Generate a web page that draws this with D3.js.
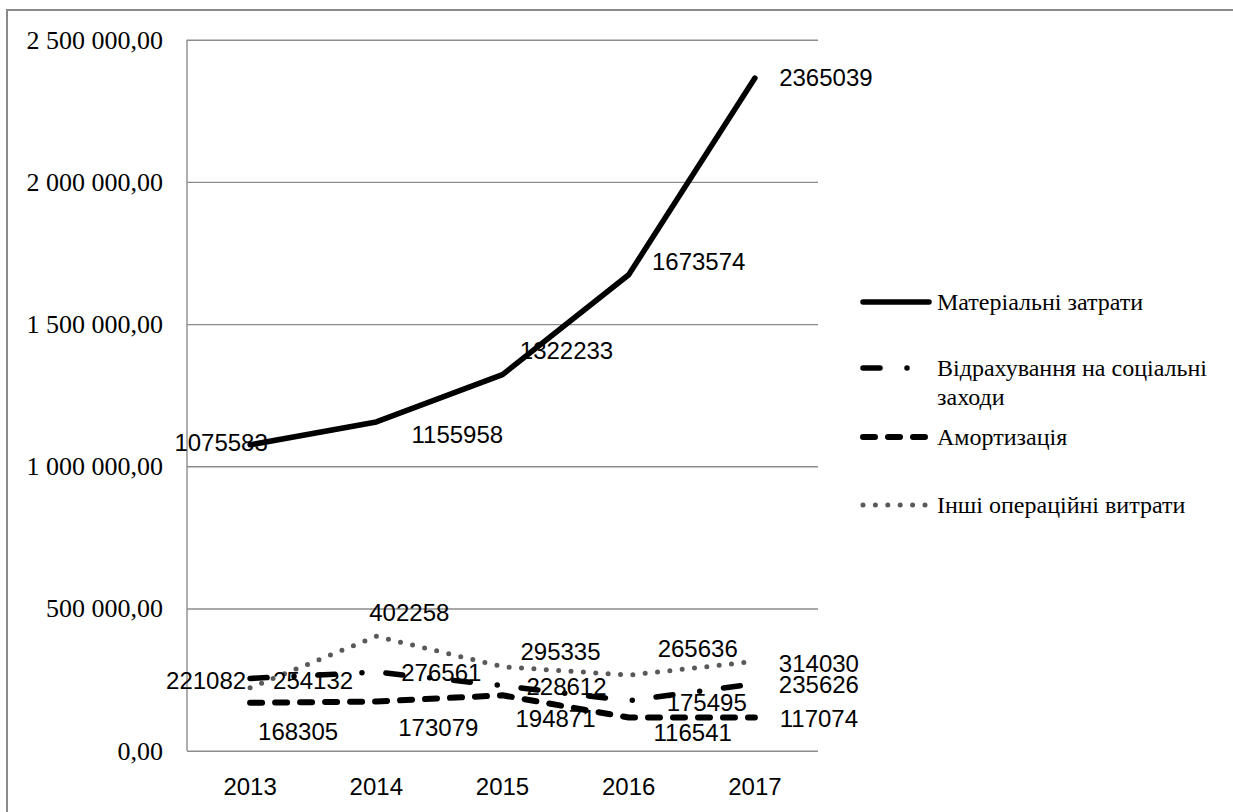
<!DOCTYPE html>
<html>
<head>
<meta charset="utf-8">
<script src="https://cdn.jsdelivr.net/npm/d3@7"></script>
<style>
  body { margin: 0; background: #fff; }
  svg { display: block; }
  .serif { font-family: "Liberation Serif", "Times New Roman", "DejaVu Serif", serif; }
  .sans { font-family: "Liberation Sans", Arial, sans-serif; }
</style>
</head>
<body>
<svg id="chart" width="1233" height="812"></svg>
<script>
// data
const years = ["2013", "2014", "2015", "2016", "2017"];
const yTicks = [0, 500000, 1000000, 1500000, 2000000, 2500000];

const materialni = [1075583, 1155958, 1322233, 1673574, 2365039];
const vidrakhuvannia = [254132, 276561, 228612, 175495, 235626];
const amortyzatsiia = [168305, 173079, 194871, 116541, 117074];
const inshi = [221082, 402258, 295335, 265636, 314030];

const seriesNames = ["Матеріальні затрати", "Відрахування на соціальні заходи", "Амортизація", "Інші операційні витрати"];

// where each data label sits relative to its point (dx, dy)
const labelShift = [
  [[-29, -2], [81, 13], [64, -24], [70, -13], [71, 0]],
  [[63, 2], [65, 1], [64, 1], [78, 2], [64, 1]],
  [[48, 29], [62, 26], [53, 23], [64, 15], [64, 1]],
  [[-44, -7], [33, -24], [58, -15], [69, -27], [64, 2]]
];

const svg = d3.select("#chart");
const margin = {left: 187, top: 39.7, right: 818, bottom: 750.7};

// frame around the whole chart
svg.append("rect")
  .attr("x", 7).attr("y", 10)
  .attr("width", 1250).attr("height", 830)
  .attr("fill", "none")
  .attr("stroke", "#8a8a8a")
  .attr("stroke-width", 2);

let x = d3.scaleBand().domain(years).range([margin.left, margin.right]).padding(0);
let y = d3.scaleLinear().domain([0, 2500000]).range([margin.bottom, margin.top]);
const xc = d => x(d) + x.bandwidth() / 2;

const ua = d3.formatLocale({decimal: ",", thousands: " ", grouping: [3], currency: ["", ""]});
const fmt = ua.format(",.2f");

// y axis with gridlines
let yAxis = svg.append("g")
  .attr("transform", "translate(" + margin.left + ",0)")
  .call(d3.axisLeft(y).tickValues(yTicks).tickFormat(fmt)
    .tickSize(-(margin.right - margin.left)).tickPadding(24));
yAxis.attr("font-family", null).attr("font-size", null);
yAxis.selectAll(".tick line").attr("stroke", "#8c8c8c").attr("stroke-width", 1.4);
yAxis.select(".domain").attr("stroke", "#8c8c8c").attr("stroke-width", 1.4)
  .attr("d", "M0," + margin.top + "V" + margin.bottom);
yAxis.selectAll("text")
  .attr("class", "serif")
  .style("font-size", "26px")
  .attr("fill", "#000");

// x axis labels
let xAxis = svg.append("g")
  .attr("transform", "translate(0," + margin.bottom + ")")
  .call(d3.axisBottom(x).tickSize(0));
xAxis.attr("font-family", null).attr("font-size", null);
xAxis.select(".domain").remove();
xAxis.selectAll("text")
  .attr("y", 36).attr("dy", "0.35em")
  .attr("class", "sans")
  .style("font-size", "24px")
  .attr("fill", "#000");

const allSeries = [materialni, vidrakhuvannia, amortyzatsiia, inshi];
const styles = [
  {stroke: "#000", width: 5.5, dash: null},
  {stroke: "#000", width: 5.5, dash: "17,27,0,24"},
  {stroke: "#000", width: 6, dash: "12,13"},
  {stroke: "#595959", width: 5, dash: "0,12.4"}
];

let line = d3.line()
  .x((d, i) => xc(years[i]))
  .y(d => y(d));

allSeries.forEach(function(vals, s){
  svg.append("path")
    .datum(vals)
    .attr("d", line)
    .attr("fill", "none")
    .attr("stroke", styles[s].stroke)
    .attr("stroke-width", styles[s].width)
    .attr("stroke-linecap", "round")
    .attr("stroke-linejoin", "round")
    .attr("stroke-dasharray", styles[s].dash);
});

// data labels
allSeries.forEach(function(vals, s){
  svg.append("g")
    .selectAll("text")
    .data(vals)
    .enter()
    .append("text")
      .attr("class", "sans")
      .attr("x", (d, i) => xc(years[i]) + labelShift[s][i][0])
      .attr("y", (d, i) => y(d) + labelShift[s][i][1])
      .attr("dy", "0.35em")
      .attr("text-anchor", "middle")
      .style("font-size", "24px")
      .attr("fill", "#000")
      .text(d => d);
});

// legend
const legendRows = [302, 368, 437, 505];
let legend = svg.append("g");
seriesNames.forEach(function(name, s){
  legend.append("line")
    .attr("x1", 863).attr("x2", 929)
    .attr("y1", legendRows[s]).attr("y2", legendRows[s])
    .attr("stroke", styles[s].stroke)
    .attr("stroke-width", styles[s].width)
    .attr("stroke-linecap", "round")
    .attr("stroke-dasharray", styles[s].dash);
  let t = legend.append("text")
    .attr("class", "serif")
    .attr("x", 937).attr("y", legendRows[s])
    .attr("dy", "0.35em")
    .style("font-size", "24px")
    .attr("fill", "#000");
  if (s == 1) {
    t.append("tspan").attr("x", 937).text("Відрахування на соціальні");
    t.append("tspan").attr("x", 937).attr("dy", "1.2em").text("заходи");
  } else {
    t.text(name);
  }
});
</script>
</body>
</html>
